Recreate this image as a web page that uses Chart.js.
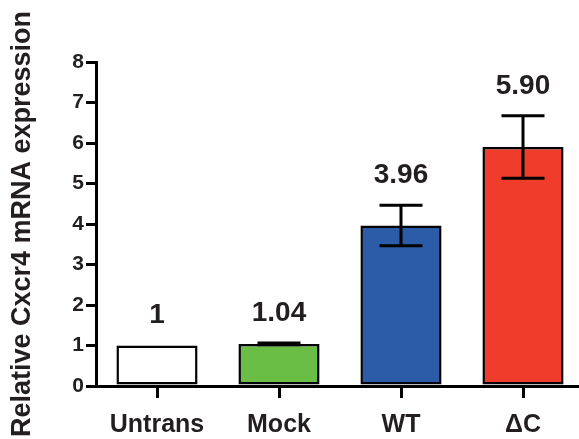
<!DOCTYPE html>
<html>
<head>
<meta charset="utf-8">
<script src="https://cdn.jsdelivr.net/npm/chart.js@4/dist/chart.umd.min.js"></script>
<style>
  html, body { margin: 0; padding: 0; overflow: hidden; background: #fff; width: 579px; height: 439px; }
  canvas { display: block; }
</style>
</head>
<body>
<canvas id="c" width="586" height="439"></canvas>
<script>
// Relative Cxcr4 mRNA expression per condition
const categories = ['Untrans', 'Mock', 'WT', '\u0394C'];
const expression = [1, 1.04, 3.96, 5.90];
const errorValues = [0, 0.02, 0.5, 0.77];
const barColors = ['#ffffff', '#6abd45', '#2c5ba7', '#ef3c2b'];
const yTicks = [0, 1, 2, 3, 4, 5, 6, 7, 8];

const FONT = '"Liberation Sans", Arial, Helvetica, sans-serif';

function formatValue(v) {
  return Number.isInteger(v) ? String(v) : v.toFixed(2);
}

// Error bars with caps, centred on each bar
const errorBarPlugin = {
  id: 'errorBars',
  afterDatasetsDraw(chart) {
    const { ctx, scales: { y } } = chart;
    const meta = chart.getDatasetMeta(0);
    ctx.save();
    ctx.strokeStyle = '#000';
    ctx.lineWidth = 3;
    ctx.lineCap = 'butt';
    meta.data.forEach((bar, i) => {
      const err = errorValues[i];
      if (!err) return;
      const v = expression[i];
      const yTop = y.getPixelForValue(v + err);
      const yBot = y.getPixelForValue(v - err);
      const half = 21.5;
      ctx.beginPath();
      ctx.moveTo(bar.x, yTop); ctx.lineTo(bar.x, yBot);
      ctx.moveTo(bar.x - half, yTop); ctx.lineTo(bar.x + half, yTop);
      ctx.moveTo(bar.x - half, yBot); ctx.lineTo(bar.x + half, yBot);
      ctx.stroke();
    });
    ctx.restore();
  }
};

// Value labels above each bar (and its error bar)
const valueLabelPlugin = {
  id: 'valueLabels',
  afterDatasetsDraw(chart) {
    const { ctx, scales: { y } } = chart;
    const meta = chart.getDatasetMeta(0);
    ctx.save();
    ctx.fillStyle = '#231f20';
    ctx.font = 'bold 28px ' + FONT;
    ctx.textAlign = 'center';
    ctx.textBaseline = 'middle';
    meta.data.forEach((bar, i) => {
      const v = expression[i];
      const yy = y.getPixelForValue(v + errorValues[i]) - 30;
      ctx.fillText(formatValue(v), bar.x, yy);
    });
    ctx.restore();
  }
};

new Chart(document.getElementById('c'), {
  type: 'bar',
  data: {
    labels: categories,
    datasets: [{
      data: expression,
      backgroundColor: barColors,
      borderColor: '#000',
      borderWidth: 2.5,
      borderSkipped: false,
      barPercentage: 0.665,
      categoryPercentage: 1.0
    }]
  },
  options: {
    responsive: false,
    animation: false,
    devicePixelRatio: 1,
    layout: { padding: { top: 62, right: 2, left: 0, bottom: 0 } },
    plugins: {
      legend: { display: false },
      tooltip: { enabled: false }
    },
    scales: {
      x: {
        offset: true,
        grid: {
          offset: false,
          drawOnChartArea: false,
          drawTicks: true,
          tickLength: 12,
          tickWidth: 3,
          lineWidth: 3,
          color: '#000'
        },
        border: { display: true, color: '#000', width: 3 },
        ticks: {
          color: '#231f20',
          font: { family: FONT, size: 25, weight: 'bold' },
          padding: 12
        },
        afterFit(scale) { scale.height = 53; }
      },
      y: {
        min: 0,
        max: 8,
        afterBuildTicks(scale) { scale.ticks = yTicks.map(v => ({ value: v })); },
        grid: {
          drawOnChartArea: false,
          drawTicks: true,
          tickLength: 10,
          tickWidth: 3,
          lineWidth: 3,
          color: '#000'
        },
        border: { display: true, color: '#000', width: 3 },
        ticks: {
          color: '#231f20',
          font: { family: FONT, size: 21, weight: 'bold' },
          padding: 2
        },
        title: {
          display: true,
          text: 'Relative Cxcr4 mRNA expression',
          color: '#231f20',
          font: { family: FONT, size: 27, weight: 'bold' },
          padding: { top: 6, bottom: 10 }
        },
        afterFit(scale) { scale.width = 96; }
      }
    }
  },
  plugins: [errorBarPlugin, valueLabelPlugin]
});
</script>
</body>
</html>
